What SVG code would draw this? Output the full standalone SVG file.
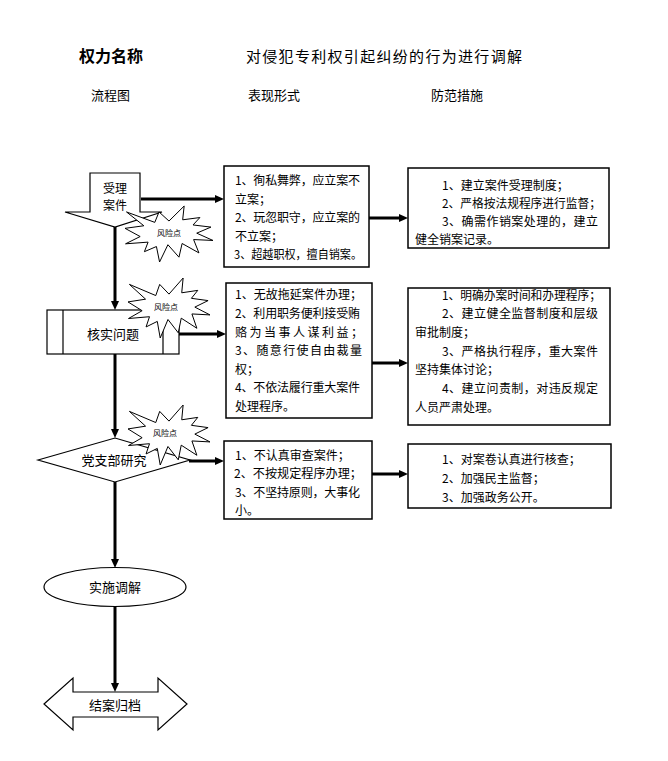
<svg xmlns="http://www.w3.org/2000/svg" xmlns:xlink="http://www.w3.org/1999/xlink" width="668" height="761" viewBox="0 0 668 761">
<style>
text{font-family:"Noto Sans CJK SC","Noto Sans",sans-serif;fill:#000}
.shape{fill:#fff;stroke:#000;stroke-width:1.2}
.box{fill:#fff;stroke:#000;stroke-width:1.5}
.t{font-size:12px}
.n{font-size:13px;text-anchor:middle}
.n2{font-size:12px;text-anchor:middle}
.r{font-size:8px;text-anchor:middle}
.h{font-size:13px}
.conn{stroke:#000;stroke-width:3;fill:none}
</style>
<defs>
<marker id="ah" viewBox="0 0 9 8" refX="4" refY="4" markerWidth="9" markerHeight="8" markerUnits="userSpaceOnUse" orient="auto">
<path d="M0,0 L9,4 L0,8 Z" fill="#000"/>
</marker>
<path id="burst" d="M108,58 L145.22,0 L141.55,53.25 L183.8,44.57 L167.02,73.15 L210.97,81.37 L176.07,104.75 L216,132.9 L168.37,129.42 L181.45,180.95 L140.2,144.57 L132.47,197.37 L105.32,149.35 L84.85,216 L77.15,156.27 L47.62,176.17 L56.67,139.37 L1.35,145.87 L37.22,117.75 L0,86.15 L46.27,76.17 L3.7,22.95 L73.12,63.2 L83.52,22.95 Z" fill="#fff" stroke="#000" stroke-width="1" vector-effect="non-scaling-stroke"/>
</defs>
<rect width="668" height="761" fill="#fff"/>

<g id="headers">
<text x="79" y="62" font-size="16" font-weight="bold">权力名称</text>
<text x="246" y="62" font-size="15" textLength="276">对侵犯专利权引起纠纷的行为进行调解</text>
<text x="91" y="100" class="h">流程图</text>
<text x="248" y="100" class="h">表现形式</text>
<text x="431" y="100" class="h">防范措施</text>
</g>

<g id="node-accept">
<polygon class="shape" points="90,173 140,173 140,212 162,212 115,227 65,212 90,212"/>
<text x="115" y="193" class="n2">受理</text>
<text x="115" y="210" class="n2">案件</text>
</g>

<g id="node-verify">
<rect class="shape" x="47" y="310" width="132" height="44"/>
<line x1="63" y1="310" x2="63" y2="354" stroke="#000" stroke-width="1.2"/>
<line x1="163" y1="310" x2="163" y2="354" stroke="#000" stroke-width="1.2"/>
<text x="113" y="339" class="n">核实问题</text>
</g>

<g id="node-party">
<polygon class="shape" points="38,460 115,438 190,460 115,482"/>
<text x="114" y="465" class="n">党支部研究</text>
</g>

<g id="node-mediate">
<ellipse class="shape" cx="115" cy="587" rx="71" ry="19.5"/>
<text x="115" y="592" class="n">实施调解</text>
</g>

<g id="node-archive">
<polygon class="shape" points="44,704 73,678 73,692 158,692 158,678 187,704 158,730 158,717 73,717 73,730"/>
<text x="115" y="710" class="n">结案归档</text>
</g>

<g id="risk-1">
<use xlink:href="#burst" transform="translate(125,206) scale(0.4074,0.2593)"/>
<text x="169" y="236" class="r">风险点</text>
</g>
<g id="risk-2">
<use xlink:href="#burst" transform="translate(128,278) scale(0.3796,0.2778)"/>
<text x="166" y="310" class="r">风险点</text>
</g>
<g id="risk-3">
<use xlink:href="#burst" transform="translate(128,405) scale(0.3796,0.2778)"/>
<text x="165" y="436" class="r">风险点</text>
</g>

<g id="box-forms-1">
<rect class="box" x="224" y="166" width="145" height="101"/>
<text class="t" x="235" y="185" textLength="125">1、徇私舞弊，应立案不</text>
<text class="t" x="235" y="203.5">立案；</text>
<text class="t" x="235" y="222" textLength="125">2、玩忽职守，应立案的</text>
<text class="t" x="235" y="240.5">不立案；</text>
<text class="t" x="234" y="259" textLength="128" lengthAdjust="spacingAndGlyphs">3、超越职权，擅自销案。</text>
</g>

<g id="box-measures-1">
<rect class="box" x="408" y="168" width="201" height="80"/>
<text class="t" x="442" y="189.5">1、建立案件受理制度；</text>
<text class="t" x="442" y="207.5" textLength="159" lengthAdjust="spacingAndGlyphs">2、严格按法规程序进行监督；</text>
<text class="t" x="442" y="225.5" textLength="156">3、确需作销案处理的，建立</text>
<text class="t" x="415" y="244">健全销案记录。</text>
</g>

<g id="box-forms-2">
<rect class="box" x="226" y="283" width="146" height="135"/>
<text class="t" x="235" y="298.5" textLength="127">1、无故拖延案件办理；</text>
<text class="t" x="235" y="317.5" textLength="125">2、利用职务便利接受贿</text>
<text class="t" x="235" y="336.5" textLength="128">赂为当事人谋利益；</text>
<text class="t" x="235" y="354.5" textLength="127">3、随意行使自由裁量</text>
<text class="t" x="235" y="373.5">权；</text>
<text class="t" x="235" y="391.5" textLength="125">4、不依法履行重大案件</text>
<text class="t" x="235" y="410.5">处理程序。</text>
</g>

<g id="box-measures-2">
<rect class="box" x="408" y="288" width="202" height="137"/>
<text class="t" x="442" y="299.5" textLength="159" lengthAdjust="spacingAndGlyphs">1、明确办案时间和办理程序；</text>
<text class="t" x="442" y="317.5" textLength="156">2、建立健全监督制度和层级</text>
<text class="t" x="415" y="336.5">审批制度；</text>
<text class="t" x="442" y="355.5" textLength="156">3、严格执行程序，重大案件</text>
<text class="t" x="415" y="373.5">坚持集体讨论；</text>
<text class="t" x="442" y="392.5" textLength="156">4、建立问责制，对违反规定</text>
<text class="t" x="415" y="411.5">人员严肃处理。</text>
</g>

<g id="box-forms-3">
<rect class="box" x="224" y="441" width="148" height="78"/>
<text class="t" x="235" y="459.5">1、不认真审查案件；</text>
<text class="t" x="234" y="477.5" textLength="128" lengthAdjust="spacingAndGlyphs">2、不按规定程序办理；</text>
<text class="t" x="235" y="496.5" textLength="125">3、不坚持原则，大事化</text>
<text class="t" x="235" y="514.5">小。</text>
</g>

<g id="box-measures-3">
<rect class="box" x="408" y="444" width="203" height="64"/>
<text class="t" x="442" y="463.5">1、对案卷认真进行核查；</text>
<text class="t" x="442" y="482.5">2、加强民主监督；</text>
<text class="t" x="442" y="501.5">3、加强政务公开。</text>
</g>

<g id="connectors">
<line class="conn" x1="115" y1="227" x2="115" y2="305" marker-end="url(#ah)"/>
<line class="conn" x1="115" y1="354" x2="115" y2="433" marker-end="url(#ah)"/>
<line class="conn" x1="115" y1="482" x2="115" y2="563" marker-end="url(#ah)"/>
<line class="conn" x1="115" y1="607" x2="115" y2="687" marker-end="url(#ah)"/>
<line class="conn" x1="141" y1="199" x2="219" y2="199" marker-end="url(#ah)"/>
<line class="conn" x1="369" y1="218" x2="403" y2="218" marker-end="url(#ah)"/>
<line class="conn" x1="179" y1="334" x2="221" y2="334" marker-end="url(#ah)"/>
<line class="conn" x1="372" y1="363" x2="403" y2="363" marker-end="url(#ah)"/>
<line class="conn" x1="189" y1="461" x2="219" y2="461" marker-end="url(#ah)"/>
<line class="conn" x1="372" y1="474" x2="403" y2="474" marker-end="url(#ah)"/>
</g>
</svg>
